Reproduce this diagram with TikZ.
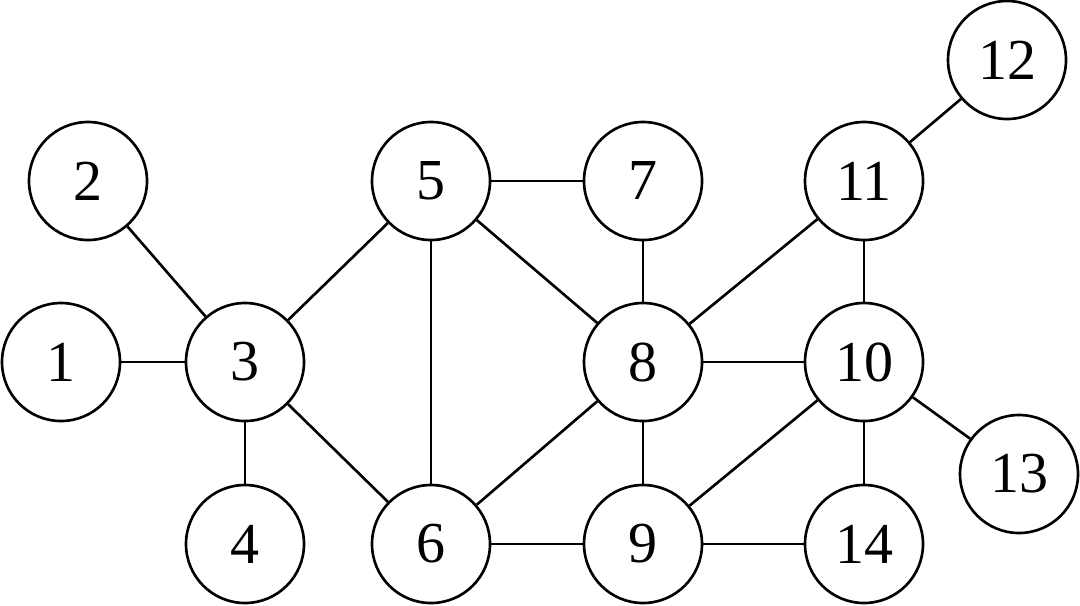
\documentclass[tikz,border=0pt]{standalone}
\usepackage{fontspec}
\setmainfont{Liberation Serif}
\begin{document}
\begin{tikzpicture}
  [every node/.style={circle,draw,line width=.75pt,minimum size=1.18cm,inner sep=0pt,font=\fontsize{16.5}{19}\selectfont}]
  \useasboundingbox (0,0) rectangle (10.8,6.05);
  \node (n1) at (0.61,2.43) {1};
  \node (n2) at (0.88,4.24) {2};
  \node (n3) at (2.45,2.43) {3};
  \node (n4) at (2.45,0.61) {4};
  \node (n5) at (4.31,4.24) {5};
  \node (n6) at (4.31,0.61) {6};
  \node (n7) at (6.43,4.24) {7};
  \node (n8) at (6.43,2.43) {8};
  \node (n9) at (6.43,0.61) {9};
  \node (n10) at (8.64,2.43) {10};
  \node (n11) at (8.64,4.24) {11};
  \node (n12) at (10.07,5.45) {12};
  \node (n13) at (10.19,1.31) {13};
  \node (n14) at (8.64,0.61) {14};

  \foreach \from/\to in {n1/n3,n2/n3,n3/n4,n3/n5,n3/n6,n5/n7,n5/n6,
  n5/n8, n7/n8, n8/n6, n8/n9, n8/n10, n8/n11, n6/n9, n9/n10, n9/n14,
  n10/n11, n10/n13, n10/n14, n11/n12}
    \draw[line width=.75pt] (\from) -- (\to);

\end{tikzpicture}
\end{document}
